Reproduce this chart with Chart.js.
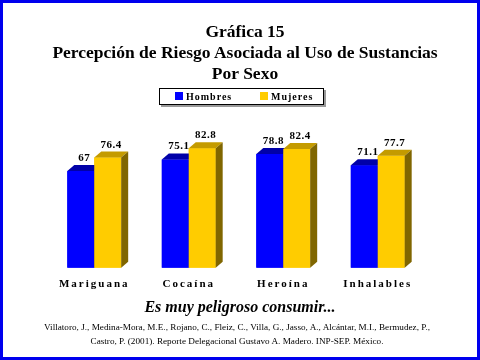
<!DOCTYPE html>
<html>
<head>
<meta charset="utf-8">
<script src="https://cdn.jsdelivr.net/npm/chart.js@4/dist/chart.umd.min.js"></script>
<style>
  html, body { margin:0; padding:0; background:#fff; }
  #wrap { position:relative; width:480px; height:360px; overflow:hidden; background:#fff; }
  #frame { position:absolute; left:0; top:0; width:480px; height:360px; box-sizing:border-box; border:3px solid #0000ee; pointer-events:none; }
  canvas { position:absolute; left:0; top:0; }
  .t { position:absolute; left:0; width:480px; text-align:center; font-family:"Liberation Serif","Times New Roman",serif; color:#000; white-space:nowrap; }
  .h { font-weight:bold; font-size:17.5px; line-height:20px; left:5px; }
  .sub { font-weight:bold; font-style:italic; font-size:16px; line-height:18px; }
  .cite { font-size:9.2px; line-height:14px; left:-3px; }
</style>
</head>
<body>
<div id="wrap">
  <canvas id="c" width="480" height="360"></canvas>
  <div class="t h" style="top:21px">Gráfica 15</div>
  <div class="t h" style="top:42px">Percepción de Riesgo Asociada al Uso de Sustancias</div>
  <div class="t h" style="top:63px">Por Sexo</div>
  <div class="t sub" style="top:298px">Es muy peligroso consumir...</div>
  <div class="t cite" style="top:320px">Villatoro, J., Medina-Mora, M.E., Rojano, C., Fleiz, C., Villa, G., Jasso, A., Alcántar, M.I., Bermudez, P.,<br>Castro, P. (2001). Reporte Delegacional Gustavo A. Madero. INP-SEP. México.</div>
  <div id="frame"></div>
</div>
<script>
const categories = ["Mariguana", "Cocaína", "Heroína", "Inhalables"];
const seriesNames = ["Hombres", "Mujeres"];
const hombres = [67, 75.1, 78.8, 71.1];
const mujeres = [76.4, 82.8, 82.4, 77.7];

const DX = 7, DY = 6;

const bar3d = {
  id: 'bar3d',
  beforeDraw(chart) {
    chart.ctx.letterSpacing = '2px';
  },
  afterDatasetsDraw(chart) {
    const ctx = chart.ctx;
    ctx.save();
    // redraw bars in dataset order, each with its 3D top and side faces
    chart.data.datasets.forEach((ds, i) => {
      chart.getDatasetMeta(i).data.forEach(el => {
        el.draw(ctx);
        const p = el.getProps(['x', 'y', 'base', 'width'], true);
        const l = p.x - p.width / 2, r = p.x + p.width / 2;
        ctx.fillStyle = ds.topColor;
        ctx.beginPath();
        ctx.moveTo(l, p.y); ctx.lineTo(l + DX, p.y - DY); ctx.lineTo(r + DX, p.y - DY); ctx.lineTo(r, p.y);
        ctx.closePath(); ctx.fill();
        ctx.fillStyle = ds.sideColor;
        ctx.beginPath();
        ctx.moveTo(r, p.y); ctx.lineTo(r + DX, p.y - DY); ctx.lineTo(r + DX, p.base - DY); ctx.lineTo(r, p.base);
        ctx.closePath(); ctx.fill();
      });
    });
    // value labels
    ctx.letterSpacing = '0.5px';
    ctx.font = 'bold 11px "Liberation Serif", serif';
    ctx.fillStyle = '#000';
    ctx.textAlign = 'center';
    ctx.textBaseline = 'alphabetic';
    chart.data.datasets.forEach((ds, i) => {
      chart.getDatasetMeta(i).data.forEach((el, j) => {
        const p = el.getProps(['x', 'y'], true);
        ctx.fillText(String(ds.data[j]), p.x + DX / 2, p.y - DY - 4);
      });
    });
    ctx.restore();
  },
  afterDraw(chart) {
    const ctx = chart.ctx;
    ctx.save();
    // legend box
    ctx.fillStyle = '#999';
    ctx.fillRect(161, 105, 165, 2);
    ctx.fillRect(324, 90, 2, 17);
    ctx.fillStyle = '#fff';
    ctx.fillRect(159, 88, 165, 17);
    ctx.strokeStyle = '#000';
    ctx.lineWidth = 1;
    ctx.strokeRect(159.5, 88.5, 164, 16);
    ctx.letterSpacing = '1px';
    ctx.font = 'bold 10px "Liberation Serif", serif';
    ctx.textAlign = 'left';
    ctx.textBaseline = 'alphabetic';
    const xs = [175, 260];
    chart.data.datasets.forEach((ds, i) => {
      ctx.fillStyle = ds.backgroundColor;
      ctx.fillRect(xs[i], 92, 8, 8);
      ctx.fillStyle = '#000';
      ctx.fillText(ds.label, xs[i] + 11, 100);
    });
    ctx.restore();
  }
};

new Chart(document.getElementById('c'), {
  type: 'bar',
  data: {
    labels: categories,
    datasets: [
      { label: seriesNames[0], data: hombres, backgroundColor: '#0000ff', topColor: '#0000a8', sideColor: '#000080', borderWidth: 0 },
      { label: seriesNames[1], data: mujeres, backgroundColor: '#ffcc00', topColor: '#c49b00', sideColor: '#806600', borderWidth: 0 }
    ]
  },
  options: {
    responsive: false,
    animation: false,
    devicePixelRatio: 1,
    layout: { padding: { top: 123.5, left: 47, right: 55, bottom: 59 } },
    categoryPercentage: 0.57,
    barPercentage: 1,
    plugins: { legend: { display: false }, tooltip: { enabled: false }, title: { display: false } },
    scales: {
      x: {
        grid: { display: false, drawTicks: false },
        border: { display: false },
        ticks: { padding: 10, color: '#000', font: { family: '"Liberation Serif", serif', size: 11, weight: 'bold' } }
      },
      y: { display: false, min: 0, max: 100 }
    }
  },
  plugins: [bar3d]
});
</script>
</body>
</html>
